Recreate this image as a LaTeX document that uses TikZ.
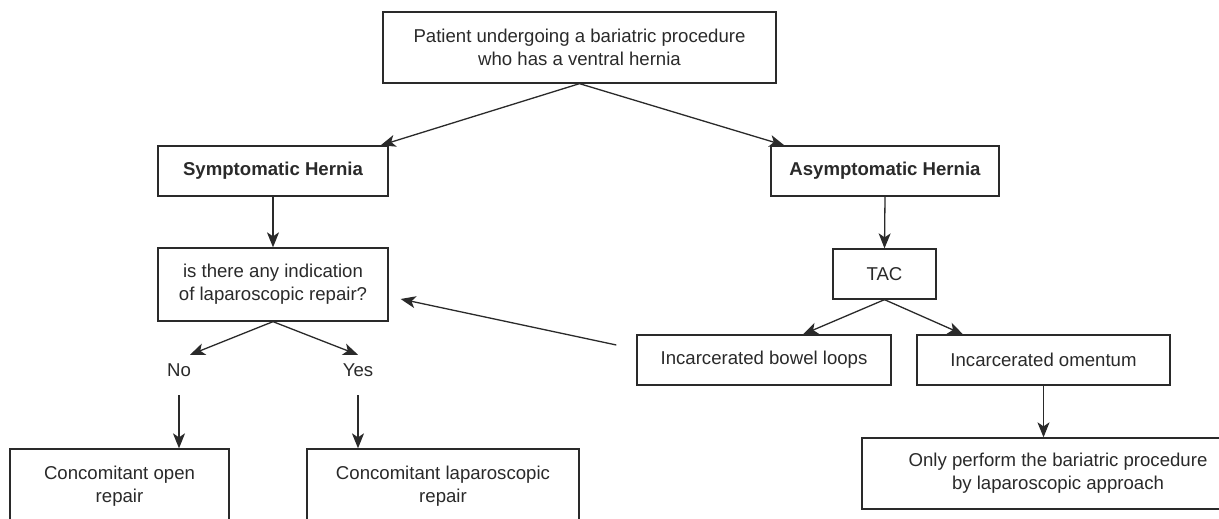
\documentclass[tikz,border=0pt]{standalone}
\usepackage{fontspec}
\setmainfont{Liberation Sans}
\usetikzlibrary{arrows.meta}
\definecolor{ink}{HTML}{2A2A2A}
\begin{document}
\begin{tikzpicture}[x=1pt,y=-1pt,
  box/.style={draw=ink,line width=1.3pt,rectangle,inner sep=0pt,align=center,
    font=\fontsize{18.6}{23}\selectfont,text=ink},
  lbl/.style={inner sep=0pt,minimum height=30pt,font=\fontsize{18.6}{23}\selectfont,text=ink},
  arr/.style={draw=ink,line width=1.3pt,-{Stealth[length=15pt,width=12pt,inset=4pt]}}]
\clip (0,0) rectangle (1219,519);
\fill[white] (0,0) rectangle (1219,519);
\node[box,minimum width=393pt,minimum height=71pt] (top) at (579.5,47.5)
  {Patient undergoing a bariatric procedure\\who has a ventral hernia};
\node[box,minimum width=230pt,minimum height=50pt,font=\fontsize{18.6}{23}\selectfont\bfseries] (sym) at (273,171) {Symptomatic Hernia};
\node[box,minimum width=228pt,minimum height=50pt,font=\fontsize{18.6}{23}\selectfont\bfseries] (asym) at (885,171) {Asymptomatic Hernia};
\node[box,minimum width=230pt,minimum height=73pt] (q) at (273,284.5)
  {is there any indication\\of laparoscopic repair?};
\node[box,minimum width=103pt,minimum height=50pt] (tac) at (884.5,274) {TAC};
\node[box,minimum width=254pt,minimum height=50pt] (bowel) at (764,360) {Incarcerated bowel loops};
\node[box,minimum width=253pt,minimum height=50pt] (oment) at (1043.5,360) {Incarcerated omentum};
\node[lbl] (no) at (179,370) {No};
\node[lbl] (yes) at (358,370) {Yes};
\node[box,minimum width=219pt,minimum height=74pt] (open) at (119.5,486)
  {Concomitant open\\repair};
\node[box,minimum width=272pt,minimum height=74pt] (lap) at (443,486)
  {Concomitant laparoscopic\\repair};
\node[box,minimum width=392pt,minimum height=71pt] (only) at (1058,473.5)
  {Only perform the bariatric procedure\\by laparoscopic approach};
\draw[arr] (top.south) -- ([xshift=-8pt]sym.north east);
\draw[arr] (top.south) -- ([xshift=14pt]asym.north west);
\draw[arr] (sym.south) -- (q.north);
\draw[arr] (asym.south) -- (tac.north);
\draw[arr] (tac.south) -- ([xshift=39pt]bowel.north);
\draw[arr] (tac.south) -- ([xshift=-80.5pt]oment.north);
\draw[arr] ([xshift=-20pt,yshift=15pt]bowel.west) -- ([xshift=12pt,yshift=-14.5pt]q.east);
\draw[arr] (q.south) -- ([xshift=11pt]no.north);
\draw[arr] (q.south) -- (yes.north);
\draw[arr] ([yshift=-10pt]no.south) -- (no.south |- open.north);
\draw[arr] ([yshift=-10pt]yes.south) -- (yes.south |- lap.north);
\draw[arr] (oment.south) -- (oment.south |- only.north);
\end{tikzpicture}
\end{document}
